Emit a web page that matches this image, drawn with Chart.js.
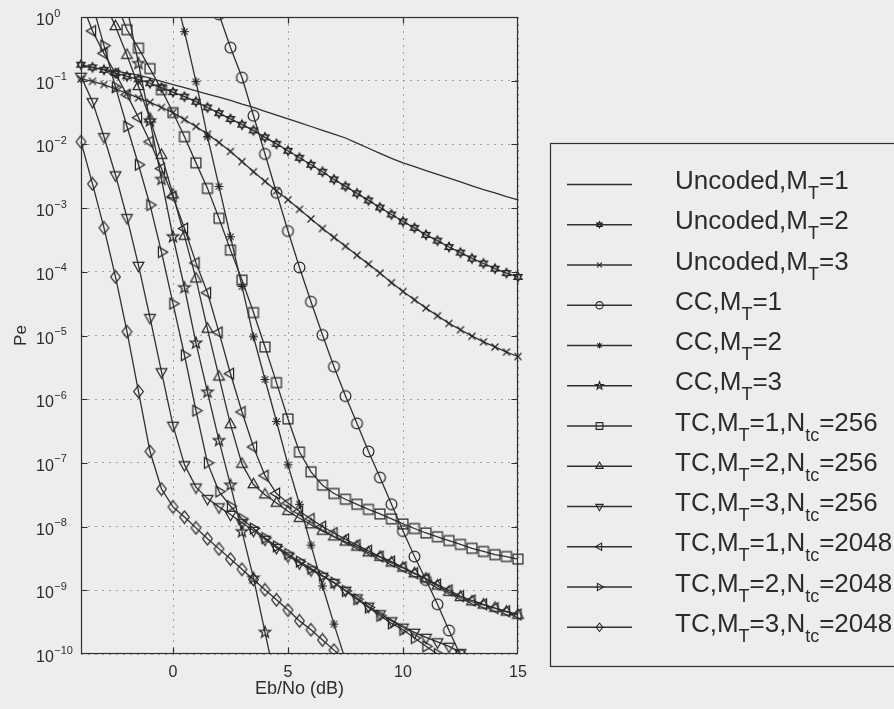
<!DOCTYPE html>
<html>
<head>
<meta charset="utf-8">
<script src="https://cdn.jsdelivr.net/npm/chart.js@4.4.1/dist/chart.umd.min.js"></script>
<style>
html,body{margin:0;padding:0;background:#ededed;}
canvas{display:block;}
</style>
</head>
<body>
<canvas id="c" width="894" height="709"></canvas>
<script>
const N = null;
// Eb/No grid (dB)
const ebno = [-4,-3.5,-3,-2.5,-2,-1.5,-1,-0.5,0,0.5,1,1.5,2,2.5,3,3.5,4,4.5,5,5.5,6,6.5,7,7.5,8,8.5,9,9.5,10,10.5,11,11.5,12,12.5,13,13.5,14,14.5,15];

const xTicks = [0,5,10,15];
const xTickLabels = ['0','5','10','15'];
const yTicks = [1e0,1e-1,1e-2,1e-3,1e-4,1e-5,1e-6,1e-7,1e-8,1e-9,1e-10];
const yTickExponents = ['0','\u22121','\u22122','\u22123','\u22124','\u22125','\u22126','\u22127','\u22128','\u22129','\u221210'];
const xTitle = 'Eb/No (dB)';
const yTitle = 'Pe';

const seriesLabels = [
  'Uncoded,M_{T}=1','Uncoded,M_{T}=2','Uncoded,M_{T}=3',
  'CC,M_{T}=1','CC,M_{T}=2','CC,M_{T}=3',
  'TC,M_{T}=1,N_{tc}=256','TC,M_{T}=2,N_{tc}=256','TC,M_{T}=3,N_{tc}=256',
  'TC,M_{T}=1,N_{tc}=2048','TC,M_{T}=2,N_{tc}=2048','TC,M_{T}=3,N_{tc}=2048'
];

const uncodedMt1 = [1.70e-1,1.60e-1,1.51e-1,1.42e-1,1.32e-1,1.22e-1,1.10e-1,9.77e-2,8.71e-2,7.76e-2,6.92e-2,6.17e-2,5.50e-2,4.90e-2,4.27e-2,3.80e-2,3.31e-2,2.88e-2,2.51e-2,2.19e-2,1.91e-2,1.66e-2,1.45e-2,1.26e-2,1.05e-2,8.71e-3,7.24e-3,6.03e-3,5.13e-3,4.47e-3,3.89e-3,3.39e-3,2.95e-3,2.57e-3,2.24e-3,1.95e-3,1.74e-3,1.51e-3,1.35e-3];
const uncodedMt2 = [1.78e-1,1.62e-1,1.48e-1,1.32e-1,1.17e-1,1.05e-1,9.12e-2,7.76e-2,6.61e-2,5.62e-2,4.68e-2,3.80e-2,3.09e-2,2.51e-2,2.04e-2,1.66e-2,1.29e-2,1.02e-2,7.94e-3,6.17e-3,4.79e-3,3.72e-3,2.82e-3,2.19e-3,1.70e-3,1.32e-3,1.02e-3,7.94e-4,6.17e-4,4.90e-4,3.80e-4,3.09e-4,2.45e-4,2.00e-4,1.62e-4,1.35e-4,1.12e-4,9.55e-5,8.32e-5];
const uncodedMt3 = [1.07e-1,9.77e-2,8.71e-2,7.41e-2,6.31e-2,5.37e-2,4.57e-2,3.80e-2,3.16e-2,2.45e-2,1.91e-2,1.45e-2,1.07e-2,7.76e-3,5.37e-3,3.72e-3,2.63e-3,1.86e-3,1.35e-3,9.55e-4,6.76e-4,4.79e-4,3.47e-4,2.51e-4,1.82e-4,1.32e-4,9.55e-5,6.76e-5,4.90e-5,3.63e-5,2.69e-5,2.04e-5,1.55e-5,1.23e-5,9.77e-6,7.94e-6,6.61e-6,5.50e-6,4.68e-6];
const ccMt1 = [N,N,N,N,N,N,N,N,N,N,N,N,1.10e0,3.31e-1,1.12e-1,2.82e-2,7.08e-3,1.74e-3,4.37e-4,1.17e-4,3.39e-5,1.02e-5,3.24e-6,1.12e-6,4.17e-7,1.51e-7,5.89e-8,2.24e-8,8.51e-9,3.39e-9,1.45e-9,6.03e-10,2.34e-10,9.55e-11,N,N,N,N,N];
const ccMt2 = [N,N,N,N,N,N,N,N,3.16e0,5.89e-1,9.66e-2,1.32e-2,2.19e-3,3.55e-4,5.89e-5,9.55e-6,2.04e-6,4.47e-7,9.33e-8,2.24e-8,5.13e-9,1.17e-9,2.95e-10,7.94e-11,N,N,N,N,N,N,N,N,N,N,N,N,N,N,N];
const ccMt3 = [N,N,N,N,1.41e0,1.86e-1,2.34e-2,2.82e-3,3.55e-4,5.62e-5,7.59e-6,1.29e-6,2.24e-7,4.47e-8,8.32e-9,1.55e-9,2.19e-10,3.16e-11,N,N,N,N,N,N,N,N,N,N,N,N,N,N,N,N,N,N,N,N,N];
const tcMt1N256 = [N,N,N,1.78e0,6.31e-1,3.24e-1,1.55e-1,7.24e-2,3.16e-2,1.32e-2,5.13e-3,2.04e-3,6.92e-4,2.19e-4,7.41e-5,2.29e-5,6.61e-6,1.82e-6,4.90e-7,1.48e-7,7.24e-8,4.47e-8,3.31e-8,2.69e-8,2.24e-8,1.86e-8,1.58e-8,1.32e-8,1.10e-8,9.33e-9,7.94e-9,6.92e-9,6.03e-9,5.25e-9,4.57e-9,4.07e-9,3.63e-9,3.39e-9,3.09e-9];
const tcMt2N256 = [N,N,1.78e0,7.08e-1,2.51e-1,8.13e-2,2.51e-2,6.76e-3,1.62e-3,3.63e-4,7.76e-5,1.26e-5,2.24e-6,3.98e-7,9.55e-8,4.57e-8,3.16e-8,2.34e-8,1.74e-8,1.35e-8,1.07e-8,8.51e-9,6.92e-9,5.75e-9,4.79e-9,3.89e-9,3.31e-9,2.69e-9,2.24e-9,1.82e-9,1.51e-9,1.17e-9,9.33e-10,7.76e-10,6.61e-10,5.89e-10,5.25e-10,4.57e-10,4.07e-10];
const tcMt3N256 = [1.17e-1,4.68e-2,1.32e-2,3.31e-3,7.08e-4,1.26e-4,1.91e-5,2.69e-6,3.89e-7,9.33e-8,4.17e-8,2.75e-8,2.04e-8,1.55e-8,1.15e-8,8.71e-9,6.31e-9,4.68e-9,3.47e-9,2.69e-9,2.09e-9,1.66e-9,1.32e-9,1.00e-9,7.59e-10,5.62e-10,4.27e-10,3.31e-10,2.63e-10,2.19e-10,1.82e-10,1.55e-10,1.32e-10,1.05e-10,N,N,N,N,N];
const tcMt1N2048 = [1.78e0,6.03e-1,2.69e-1,1.29e-1,6.03e-2,2.63e-2,1.10e-2,4.17e-3,1.51e-3,4.79e-4,1.38e-4,4.68e-5,1.12e-5,2.51e-6,6.31e-7,1.78e-7,6.31e-8,3.31e-8,2.34e-8,1.74e-8,1.32e-8,1.00e-8,7.94e-9,6.31e-9,5.13e-9,4.17e-9,3.39e-9,2.82e-9,2.29e-9,1.86e-9,1.51e-9,1.23e-9,1.00e-9,8.13e-10,6.92e-10,6.03e-10,5.25e-10,4.68e-10,4.17e-10];
const tcMt2N2048 = [N,1.58e0,3.55e-1,7.94e-2,1.91e-2,4.79e-3,1.12e-3,2.04e-4,3.16e-5,4.90e-6,6.61e-7,1.00e-7,3.55e-8,2.09e-8,1.32e-8,9.33e-9,6.61e-9,4.90e-9,3.72e-9,2.82e-9,2.19e-9,1.70e-9,1.32e-9,9.77e-10,7.24e-10,5.37e-10,3.98e-10,3.02e-10,2.40e-10,1.78e-10,1.32e-10,1.00e-10,N,N,N,N,N,N,N];
const tcMt3N2048 = [1.10e-2,2.40e-3,4.90e-4,8.32e-5,1.15e-5,1.32e-6,1.51e-7,3.89e-8,2.04e-8,1.41e-8,9.55e-9,6.46e-9,4.47e-9,3.09e-9,2.14e-9,1.48e-9,1.02e-9,7.08e-10,4.90e-10,3.31e-10,2.40e-10,1.66e-10,1.15e-10,7.94e-11,N,N,N,N,N,N,N,N,N,N,N,N,N,N,N];

const seriesValues = [uncodedMt1,uncodedMt2,uncodedMt3,ccMt1,ccMt2,ccMt3,tcMt1N256,tcMt2N256,tcMt3N256,tcMt1N2048,tcMt2N2048,tcMt3N2048];

// ---- styles ----
const LINE = '#303030';
const MARK = '#262626';
const TEXT = '#2c2c2c';
const FONT = '"Liberation Sans", Arial, Helvetica, sans-serif';
const markerTypes = ['none','hexagram','x','circle','asterisk','pentagram','square','triUp','triDown','triLeft','triRight','diamond'];
const markerSize = {none:0,hexagram:4.8,x:5,circle:5.4,asterisk:4.5,pentagram:6,square:5.8,triUp:6.2,triDown:6.2,triLeft:6.2,triRight:6.2,diamond:5.4};

function strokeMarker(g, type, x, y, r) {
  g.beginPath();
  const tri = (deg, rr) => {
    for (let k = 0; k < 3; k++) {
      const a = (deg + k * 120) * Math.PI / 180;
      const px = x + Math.sin(a) * rr, py = y - Math.cos(a) * rr;
      if (k) g.lineTo(px, py); else g.moveTo(px, py);
    }
    g.closePath();
  };
  switch (type) {
    case 'circle': g.arc(x, y, r, 0, Math.PI * 2); break;
    case 'square': g.rect(x - r * 0.85, y - r * 0.85, r * 1.7, r * 1.7); break;
    case 'diamond':
      g.moveTo(x, y - r * 1.15); g.lineTo(x + r * 0.9, y); g.lineTo(x, y + r * 1.15); g.lineTo(x - r * 0.9, y); g.closePath(); break;
    case 'triUp': tri(0, r); break;
    case 'triDown': tri(180, r); break;
    case 'triLeft': tri(270, r); break;
    case 'triRight': tri(90, r); break;
    case 'x': {
      const d = r * 0.7;
      g.moveTo(x - d, y - d); g.lineTo(x + d, y + d); g.moveTo(x + d, y - d); g.lineTo(x - d, y + d); break;
    }
    case 'asterisk':
      for (let k = 0; k < 4; k++) {
        const a = k * Math.PI / 4;
        g.moveTo(x + Math.sin(a) * r, y - Math.cos(a) * r); g.lineTo(x - Math.sin(a) * r, y + Math.cos(a) * r);
      }
      break;
    case 'pentagram':
      for (let k = 0; k < 10; k++) {
        const a = k * Math.PI / 5, rr = k % 2 ? r * 0.4 : r;
        const px = x + Math.sin(a) * rr, py = y - Math.cos(a) * rr;
        if (k) g.lineTo(px, py); else g.moveTo(px, py);
      }
      g.closePath(); break;
    case 'hexagram': tri(0, r); tri(180, r); break;
  }
  g.stroke();
}

function makeMarker(type, r) {
  const s = Math.ceil(r * 2 + 4);
  const c = document.createElement('canvas');
  c.width = s; c.height = s;
  const g = c.getContext('2d');
  g.strokeStyle = MARK; g.lineWidth = 1.2;
  strokeMarker(g, type, s / 2, s / 2, r);
  return c;
}

const datasets = seriesValues.map((vals, i) => {
  const t = markerTypes[i];
  return {
    label: seriesLabels[i],
    data: ebno.map((x, j) => ({x: x, y: vals[j]})).filter(p => p.y !== null),
    borderColor: LINE,
    borderWidth: 1.3,
    backgroundColor: 'transparent',
    fill: false,
    tension: 0,
    pointStyle: t === 'none' ? false : makeMarker(t, markerSize[t]),
    pointRadius: t === 'none' ? 0 : 5,
    pointHoverRadius: t === 'none' ? 0 : 5,
    clip: {left: 10, right: 10, top: 0, bottom: 0}
  };
});

function drawRich(ctx, s, x, y, mainPx, subPx, subDy) {
  const parts = s.split(/(_\{[^}]*\})/).filter(Boolean);
  let cx = x;
  for (const p of parts) {
    if (p.startsWith('_{')) {
      const t = p.slice(2, -1);
      ctx.font = subPx + 'px ' + FONT;
      ctx.fillText(t, cx, y + subDy);
      cx += ctx.measureText(t).width;
    } else {
      ctx.font = mainPx + 'px ' + FONT;
      ctx.fillText(p, cx, y);
      cx += ctx.measureText(p).width;
    }
  }
}

const decor = {
  id: 'decor',
  afterDraw(chart) {
    const ctx = chart.ctx, a = chart.chartArea;
    const xs = chart.scales.x, ys = chart.scales.y;
    ctx.save();
    // frame
    ctx.strokeStyle = LINE; ctx.lineWidth = 1.2;
    const L = Math.round(a.left) + 0.5, R = Math.round(a.right) - 0.5;
    const T = Math.round(a.top) + 0.5, B = Math.round(a.bottom) - 0.5;
    ctx.strokeRect(L, T, R - L, B - T);
    // inward ticks
    ctx.beginPath();
    xTicks.forEach(v => {
      const px = Math.round(xs.getPixelForValue(v)) + 0.5;
      if (px < L + 2 || px > R - 2) return;
      ctx.moveTo(px, B); ctx.lineTo(px, B - 6);
      ctx.moveTo(px, T); ctx.lineTo(px, T + 6);
    });
    yTicks.forEach(v => {
      const py = Math.round(ys.getPixelForValue(v)) + 0.5;
      if (py < T + 2 || py > B - 2) return;
      ctx.moveTo(L, py); ctx.lineTo(L + 6, py);
      ctx.moveTo(R, py); ctx.lineTo(R - 6, py);
    });
    ctx.stroke();

    ctx.fillStyle = TEXT;
    ctx.textBaseline = 'alphabetic';
    // y tick labels 10^n
    ctx.textAlign = 'left';
    yTicks.forEach((v, i) => {
      const py = ys.getPixelForValue(v);
      ctx.font = '16px ' + FONT;
      ctx.fillText('10', 36, py + 8);
      const w = ctx.measureText('10').width;
      ctx.font = '11px ' + FONT;
      ctx.fillText(yTickExponents[i], 36 + w + 0.5, py - 0.5);
    });
    // x tick labels
    ctx.textAlign = 'center';
    ctx.font = '16px ' + FONT;
    xTicks.forEach((v, i) => ctx.fillText(xTickLabels[i], xs.getPixelForValue(v), 677));
    // axis titles
    ctx.font = '18px ' + FONT;
    ctx.fillText(xTitle, (a.left + a.right) / 2, 694);
    ctx.font = '17px ' + FONT;
    ctx.save();
    ctx.translate(26, (a.top + a.bottom) / 2);
    ctx.rotate(-Math.PI / 2);
    ctx.fillText(yTitle, 0, 0);
    ctx.restore();

    // legend
    ctx.strokeStyle = LINE; ctx.lineWidth = 1.2;
    ctx.strokeRect(550.5, 143.5, 360, 523);
    ctx.textAlign = 'left';
    seriesLabels.forEach((lab, i) => {
      const y = 184.5 + 40.25 * i;
      ctx.strokeStyle = LINE; ctx.lineWidth = 1.3;
      ctx.beginPath(); ctx.moveTo(567, y); ctx.lineTo(632, y); ctx.stroke();
      const t = markerTypes[i];
      if (t !== 'none') { ctx.strokeStyle = MARK; ctx.lineWidth = 1.1; strokeMarker(ctx, t, 599.5, y, markerSize[t] * 0.68); }
      ctx.fillStyle = TEXT;
      drawRich(ctx, lab, 675, y + 4.7, 26, 18, 10);
    });
    ctx.restore();
  }
};

new Chart(document.getElementById('c'), {
  type: 'line',
  data: {datasets: datasets},
  options: {
    responsive: false,
    devicePixelRatio: 1,
    animation: false,
    events: [],
    layout: {padding: {left: 0, top: 17, right: 376, bottom: 0}},
    plugins: {legend: {display: false}, tooltip: {enabled: false}, title: {display: false}},
    scales: {
      x: {
        type: 'linear', min: -4, max: 15,
        afterBuildTicks: s => { s.ticks = xTicks.map(v => ({value: v})); },
        afterFit: s => { s.height = 55; },
        ticks: {display: false},
        grid: {color: '#a0a0a0', lineWidth: 1, drawTicks: false},
        border: {display: false, dash: [2, 5]}
      },
      y: {
        type: 'logarithmic', min: 1e-10, max: 1,
        afterBuildTicks: s => { s.ticks = yTicks.map(v => ({value: v})); },
        afterFit: s => { s.width = 81; },
        ticks: {display: false},
        grid: {color: '#a0a0a0', lineWidth: 1, drawTicks: false},
        border: {display: false, dash: [2, 5]}
      }
    }
  },
  plugins: [decor]
});
</script>
</body>
</html>
